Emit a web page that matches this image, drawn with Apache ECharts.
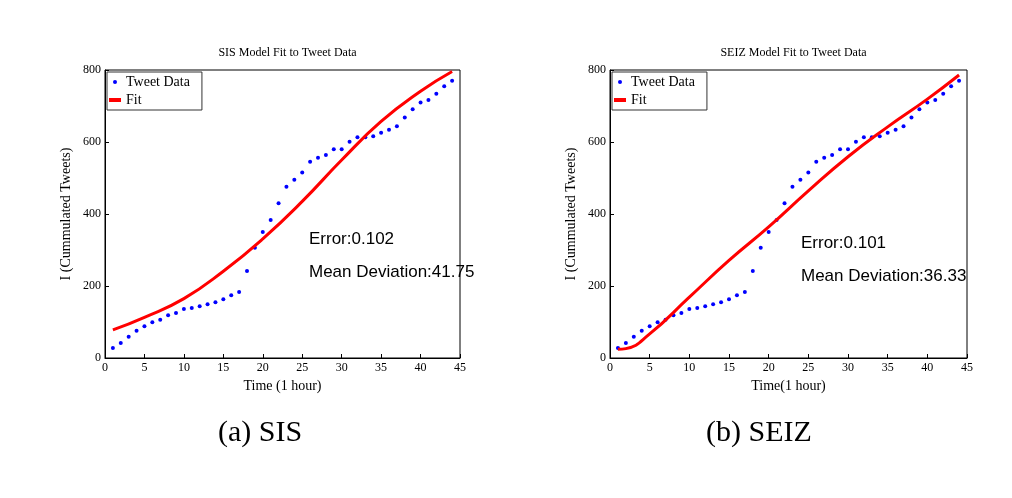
<!DOCTYPE html>
<html>
<head>
<meta charset="utf-8">
<script src="https://cdn.jsdelivr.net/npm/echarts@6/dist/echarts.min.js"></script>
<style>html,body{margin:0;background:#fff}#c{width:1012px;height:498px}</style>
</head>
<body>
<div id="c"></div>
<script>
// hours 1..44
const hours = Array.from({length: 44}, (_, i) => i + 1)
const tweets = [28, 42, 59, 76, 88, 99, 106, 119, 125, 136, 139, 144, 149, 155, 163, 174, 183, 242, 306, 350,
  383, 430, 476, 495, 515, 545, 556, 564, 580, 580, 601, 613, 613, 616, 626, 634, 644, 668, 691, 710,
  717, 734, 755, 770]
// fit curves read at a few hours
const fitHours = [1, 5, 10, 15, 20, 25, 30, 35, 40, 44]
const sisFit = [78, 113, 165, 241, 331, 435, 550, 657, 741, 796]
const seizFitHours = [1, 2, 5, 10, 15, 20, 25, 30, 35, 40, 44]
const seizFit = [24, 26, 67, 169, 271, 364, 464, 559, 642, 719, 786]
const titles = ['SIS Model Fit to Tweet Data', 'SEIZ Model Fit to Tweet Data']
const xNames = ['Time (1 hour)', 'Time(1 hour)']
const captions = ['(a) SIS', '(b) SEIZ']
const errors = ['Error:0.102', 'Error:0.101']
const deviations = ['Mean Deviation:41.75', 'Mean Deviation:36.33']

const serif = 'Liberation Serif'
const chart = echarts.init(document.getElementById('c'))
const grids = [{left: 105, top: 70, width: 355, height: 288}, {left: 610, top: 70, width: 357, height: 288}]
const pair = (xs, ys) => xs.map((x, i) => [x, ys[i]])

chart.setOption({
  animation: false,
  grid: grids,
  title: [0, 1].map(i => ({
    text: titles[i], left: grids[i].left + grids[i].width / 2, top: 42, textAlign: 'center',
    textStyle: {fontFamily: serif, fontSize: 12, fontWeight: 'normal', color: '#000'}
  })),
  legend: [0, 1].map(i => ({
    gridIndex: i, left: grids[i].left + 2, top: grids[i].top + 2, orient: 'vertical',
    data: [{name: 'Tweet Data ' + i, icon: 'circle'}, {name: 'Fit ' + i, icon: 'rect'}],
    formatter: n => n.replace(/ \d$/, ''),
    borderColor: '#333', borderWidth: 1, borderRadius: 0, padding: [3, 12, 3, 2], itemGap: 4,
    itemWidth: 12, itemHeight: 4,
    textStyle: {fontFamily: serif, fontSize: 14, color: '#000'}
  })),
  xAxis: [0, 1].map(i => ({
    gridIndex: i, type: 'value', min: 0, max: 45, interval: 5, name: xNames[i],
    nameLocation: 'middle', nameGap: 16,
    nameTextStyle: {fontFamily: serif, fontSize: 14, color: '#000'},
    axisLine: {lineStyle: {color: '#000'}}, axisTick: {inside: true, length: 4},
    axisLabel: {fontFamily: serif, fontSize: 12, color: '#000', margin: 4},
    splitLine: {show: false}
  })),
  yAxis: [0, 1].map(i => ({
    gridIndex: i, type: 'value', min: 0, max: 800, interval: 200, name: 'I (Cummulated Tweets)',
    nameLocation: 'middle', nameGap: 32,
    nameTextStyle: {fontFamily: serif, fontSize: 14, color: '#000'},
    axisLine: {show: true, lineStyle: {color: '#000'}}, axisTick: {inside: true, length: 4},
    axisLabel: {fontFamily: serif, fontSize: 12, color: '#000', margin: 4},
    splitLine: {show: false}
  })),
  series: [
    {name: 'Tweet Data 0', type: 'scatter', xAxisIndex: 0, yAxisIndex: 0, symbolSize: 4,
      itemStyle: {color: '#0000ff', opacity: 1}, data: pair(hours, tweets)},
    {name: 'Fit 0', type: 'line', xAxisIndex: 0, yAxisIndex: 0, smooth: true, showSymbol: false,
      lineStyle: {color: '#ff0000', width: 3}, itemStyle: {color: '#ff0000'}, data: pair(fitHours, sisFit)},
    {name: 'Tweet Data 1', type: 'scatter', xAxisIndex: 1, yAxisIndex: 1, symbolSize: 4,
      itemStyle: {color: '#0000ff', opacity: 1}, data: pair(hours, tweets)},
    {name: 'Fit 1', type: 'line', xAxisIndex: 1, yAxisIndex: 1, smooth: true, showSymbol: false,
      lineStyle: {color: '#ff0000', width: 3}, itemStyle: {color: '#ff0000'}, data: pair(seizFitHours, seizFit)}
  ],
  graphic: [
    {type: 'rect', shape: {x: 105, y: 70, width: 355, height: 288}, style: {fill: 'none', stroke: '#000'}, silent: true},
    {type: 'rect', shape: {x: 610, y: 70, width: 357, height: 288}, style: {fill: 'none', stroke: '#000'}, silent: true},
    {type: 'text', left: 309, top: 231, style: {text: errors[0], font: '17px Liberation Sans', fill: '#000'}},
    {type: 'text', left: 309, top: 264, style: {text: deviations[0], font: '17px Liberation Sans', fill: '#000'}},
    {type: 'text', left: 801, top: 235, style: {text: errors[1], font: '17px Liberation Sans', fill: '#000'}},
    {type: 'text', left: 801, top: 268, style: {text: deviations[1], font: '17px Liberation Sans', fill: '#000'}},
    {type: 'text', left: 218, top: 418, style: {text: captions[0], font: '30px Liberation Serif', fill: '#000'}},
    {type: 'text', left: 706, top: 418, style: {text: captions[1], font: '30px Liberation Serif', fill: '#000'}}
  ]
})
</script>
</body>
</html>
